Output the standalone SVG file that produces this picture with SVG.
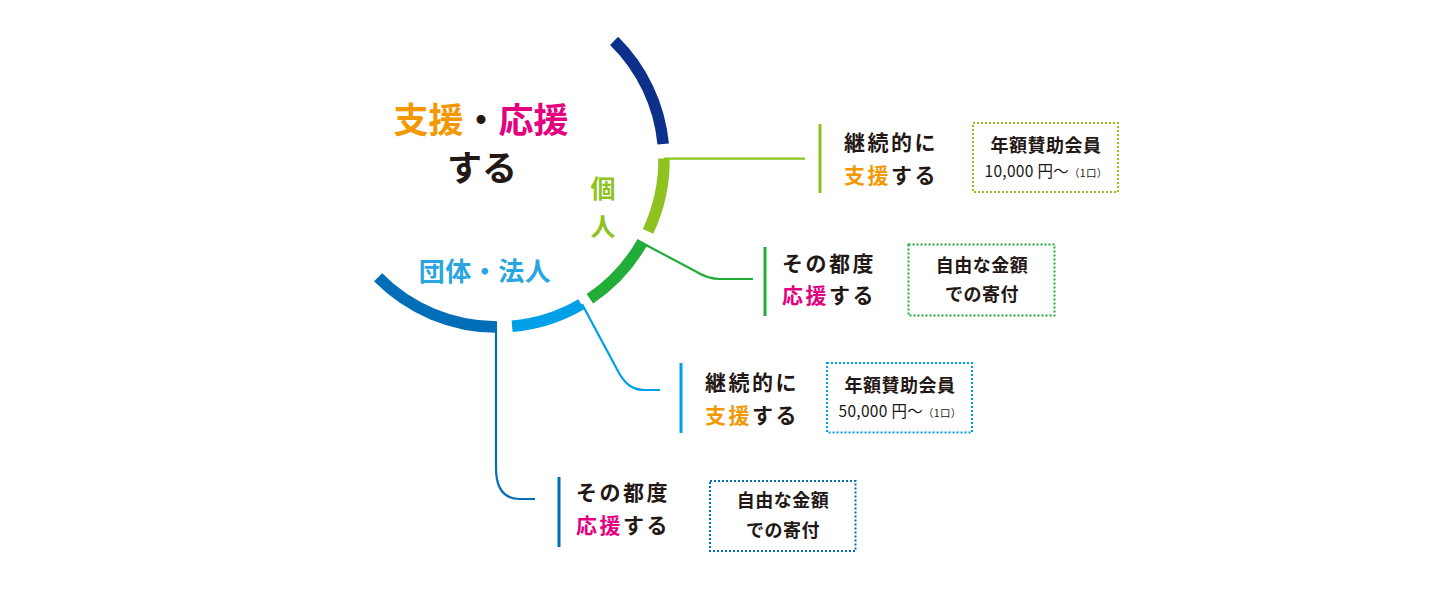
<svg xmlns="http://www.w3.org/2000/svg" width="1450" height="600" viewBox="0 0 1450 600">
<style>
text{font-family:"Noto Sans CJK JP","Noto Sans",sans-serif;fill:#231815}
.b{font-weight:700}
.arc{fill:none;stroke-width:11.5;stroke-linecap:butt}
.con{fill:none;stroke-width:2.2}
.bar{stroke-width:3}
.box{fill:#fff;stroke-width:2;stroke-dasharray:2 2}
.lbl{font-size:21px;font-weight:700;letter-spacing:2.5px}
.bx{font-size:18px;font-weight:700;text-anchor:middle;letter-spacing:0.5px}
.amt{font-size:15.5px;text-anchor:middle;letter-spacing:0.3px}
.or{fill:#f39800}
.mg{fill:#e4007f}
</style>
<rect width="1450" height="600" fill="#fff"/>
<g id="title">
<text class="b" x="481" y="133" font-size="35" text-anchor="middle"><tspan class="or">支援</tspan>・<tspan class="mg">応援</tspan></text>
<text class="b" x="482" y="181" font-size="35" text-anchor="middle">する</text>
</g>
<g id="circle">
<path class="arc" stroke="#0d318b" d="M614.1,40.9 A167,167 0 0 1 663.2,144"/>
<path class="arc" stroke="#8dc21f" d="M664,158.5 A167,167 0 0 1 648,231.4"/>
<path class="arc" stroke="#22ac38" d="M642.6,241.7 A167,167 0 0 1 589.9,298.8"/>
<path class="arc" stroke="#00a0e9" d="M581.3,304.2 A167,167 0 0 1 512.1,326.3"/>
<path class="arc" stroke="#036eb8" d="M497,327 A167,167 0 0 1 378.1,277.3"/>
</g>
<g id="kojin">
<text class="b" x="603" y="198" font-size="25" text-anchor="middle" style="fill:#8dc21f">個</text>
<text class="b" x="603" y="236" font-size="25" text-anchor="middle" style="fill:#8dc21f">人</text>
</g>
<g id="dantai">
<text class="b" x="485" y="281" font-size="26" text-anchor="middle" letter-spacing="0.5" style="fill:#29a6df">団体・法人</text>
</g>
<g id="connectors">
<path class="con" stroke="#8dc21f" d="M664,158.6 H805"/>
<path class="con" stroke="#22ac38" d="M646,245 L695,271 C703,276 710,279 720,279 H753"/>
<path class="con" stroke="#00a0e9" d="M582,304 L619,373 C626,385 633,390 645,390 H660"/>
<path class="con" stroke="#036eb8" d="M496,327 V468 C496,490 505,499 520,499 H535"/>
</g>
<g id="node-kojin-keizoku">
<line class="bar" x1="820" y1="124" x2="820" y2="193" stroke="#8dc21f"/>
<text class="lbl" x="844" y="149.5">継続的に</text>
<text class="lbl" x="844" y="182.5"><tspan class="or">支援</tspan>する</text>
<rect class="box" x="973" y="123" width="145" height="69" stroke="#8dc21f"/>
<text class="bx" x="1046" y="151.5">年額賛助会員</text>
<text class="amt" x="1046" y="176.5">10,000 円〜<tspan font-size="10.5">（1口）</tspan></text>
</g>
<g id="node-kojin-sonotsudo">
<line class="bar" x1="765" y1="247" x2="765" y2="316" stroke="#22ac38"/>
<text class="lbl" x="782" y="270.5">その都度</text>
<text class="lbl" x="782" y="302.5"><tspan class="mg">応援</tspan>する</text>
<rect class="box" x="908.5" y="244.5" width="146" height="71" stroke="#22ac38"/>
<text class="bx" x="982" y="272">自由な金額</text>
<text class="bx" x="982" y="300.5">での寄付</text>
</g>
<g id="node-dantai-keizoku">
<line class="bar" x1="681" y1="363" x2="681" y2="433" stroke="#00a0e9"/>
<text class="lbl" x="705" y="389.5">継続的に</text>
<text class="lbl" x="705" y="422.5"><tspan class="or">支援</tspan>する</text>
<rect class="box" x="827" y="363" width="145" height="69.5" stroke="#00a0e9"/>
<text class="bx" x="900" y="392">年額賛助会員</text>
<text class="amt" x="900" y="416.5">50,000 円〜<tspan font-size="10.5">（1口）</tspan></text>
</g>
<g id="node-dantai-sonotsudo">
<line class="bar" x1="559" y1="477" x2="559" y2="547" stroke="#036eb8"/>
<text class="lbl" x="576" y="500">その都度</text>
<text class="lbl" x="576" y="533"><tspan class="mg">応援</tspan>する</text>
<rect class="box" x="710" y="481" width="145.5" height="70" stroke="#036eb8"/>
<text class="bx" x="783" y="507">自由な金額</text>
<text class="bx" x="783" y="536.5">での寄付</text>
</g>
</svg>
